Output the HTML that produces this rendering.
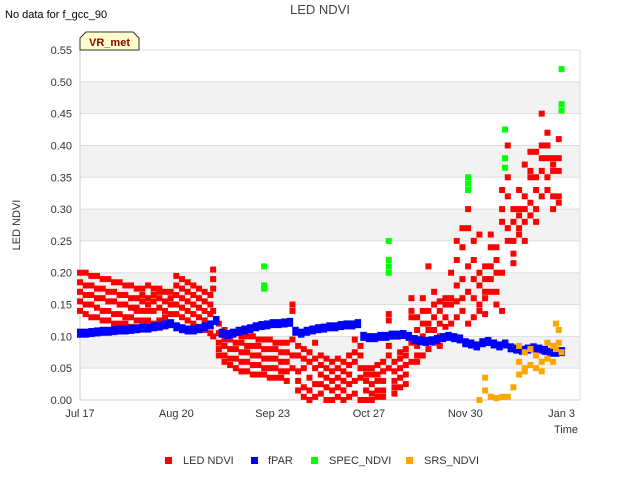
<!DOCTYPE html>
<html><head><meta charset="utf-8"><style>
body{margin:0;background:#fff;font-family:"Liberation Sans",sans-serif}
text{font-family:"Liberation Sans",sans-serif}
</style></head><body>
<svg id="chart" width="640" height="480" xmlns="http://www.w3.org/2000/svg">
<rect width="640" height="480" fill="#fff"/>
<text x="5" y="18" font-size="11">No data for f_gcc_90</text>
<text x="320" y="14" font-size="13" text-anchor="middle" fill="#444">LED NDVI</text>
<g id="bands"></g>
<g id="yaxis"></g>
<g id="xaxis"></g>
<g id="marks"></g>
<text transform="translate(20,225) rotate(-90)" font-size="11" text-anchor="middle" fill="#333">LED NDVI</text>
<text x="578" y="433" font-size="11" text-anchor="end" fill="#333">Time</text>
<g>
<path d="M80,50 L80,38 L86,32 L133,32 L139,38 L139,50 Z" fill="#ffffcc" stroke="#333" stroke-width="1"/>
<text x="109.5" y="46" font-size="11" font-weight="bold" text-anchor="middle" fill="#8b0000">VR_met</text>
</g>
<g>
<g><rect x="165" y="457" width="7" height="7" fill="#f00"/><text x="183" y="464" font-size="11" fill="#333">LED NDVI</text></g>
<g><rect x="251" y="457" width="7" height="7" fill="#00f"/><text x="268" y="464" font-size="11" fill="#333">fPAR</text></g>
<g><rect x="311" y="457" width="7" height="7" fill="#0f0"/><text x="329" y="464" font-size="11" fill="#333">SPEC_NDVI</text></g>
<g><rect x="406" y="457" width="7" height="7" fill="#ffa500"/><text x="424" y="464" font-size="11" fill="#333">SRS_NDVI</text></g>
</g>
</svg>
<script>
const yTicks=[0,0.05,0.10,0.15,0.20,0.25,0.30,0.35,0.40,0.45,0.50,0.55];
const xTickDays=[0,34,68,102,136,170];
const xTickLabels=["Jul 17","Aug 20","Sep 23","Oct 27","Nov 30","Jan 3"];
const ledDays=[0,2,4,6,8,10,12,14,16,18,20,22,24,26,28,30,32,34,36,38,40,42,44,46,47,49,51,53,55,57,59,61,63,65,67,69,71,73,75,77,79,81,83,85,87,89,91,93,95,97,99,101,103,105,107,109,111,113,115,117,119,121,123,125,127,129,131,133,135,137,139,141,143,145,147,149,151,153,155,157,159,161,163,165,167,169];
const ledVals=[
[.20,.185,.17,.155,.14],[.20,.18,.165,.15,.135],[.195,.18,.165,.15,.13],[.195,.175,.16,.145,.13],[.19,.175,.16,.14,.125],[.19,.17,.155,.14,.125],[.185,.17,.155,.135,.12],[.185,.165,.15,.135,.12],[.18,.165,.15,.13,.12],[.18,.16,.145,.13,.115],[.175,.16,.145,.125,.14],[.175,.155,.14,.125,.165],[.18,.16,.14,.125,.15],[.175,.155,.14,.12,.165],[.175,.16,.145,.125,.17],[.17,.155,.14,.125,.13],[.17,.15,.135,.12,.16],
[.195,.18,.165,.15,.135],[.19,.175,.16,.145,.13],[.185,.17,.155,.14,.125],[.18,.165,.15,.135,.12],[.175,.16,.145,.13,.115],[.17,.155,.14,.125,.11],[.165,.15,.135,.12,.105],[.205,.19,.175,.14,.10],
[.12,.105,.09,.08,.07],[.11,.095,.085,.07,.06],[.105,.095,.08,.065,.055],[.105,.09,.08,.065,.05],[.10,.09,.075,.06,.045],[.10,.085,.075,.06,.045],[.10,.085,.07,.055,.04],[.095,.085,.07,.055,.04],[.095,.08,.065,.05,.04],[.095,.08,.065,.05,.035],[.09,.08,.065,.05,.035],[.09,.075,.06,.045,.035],[.09,.075,.06,.045,.03],[.15,.14,.095,.07,.05],
[.085,.07,.045,.03,.015],[.08,.065,.05,.02,.005],[.075,.06,.035,.015,0],[.09,.065,.05,.025,.005],[.07,.055,.04,.025,.01],[.065,.05,.035,.02,0],[.06,.045,.03,.015,0],[.065,.05,.035,.02,.005],[.06,.045,.03,.015,0],[.07,.055,.04,.025,.005],[.095,.075,.06,.03,.01],[.085,.07,.05,.035,0],
[.05,.04,.03,.015,0],[.05,.04,.025,.01,0],[.055,.04,.03,.015,.005],[.06,.045,.03,.015,.005],[.135,.125,.085,.07,.05],[.06,.045,.03,.02,.01],[.075,.065,.05,.035,.02],[.08,.07,.055,.04,.025],
[.16,.14,.13,.09,.06],[.13,.11,.085,.07,.06],[.14,.12,.10,.07,.16],[.21,.14,.12,.11,.08],[.15,.13,.11,.09,.17],[.155,.14,.12,.10,.085],[.16,.15,.13,.115,.10],[.20,.16,.15,.12,.10],[.25,.22,.18,.155,.13],[.27,.24,.19,.16,.14],[.30,.27,.21,.17,.12],[.25,.22,.19,.16,.13],[.26,.20,.18,.15,.14],[.21,.19,.17,.16,.135],[.26,.24,.21,.19,.17],[.24,.22,.20,.17,.15],
[.33,.30,.28,.20,.14],[.40,.35,.32,.27,.25],[.30,.28,.25,.23,.215],[.33,.30,.29,.27,.26],[.37,.32,.30,.28,.25],[.39,.36,.35,.31,.29],[.39,.35,.33,.30,.28],[.45,.40,.38,.36,.32],[.42,.40,.38,.35,.33],[.38,.37,.36,.32,.30],[.41,.38,.36,.32,.31]];
const fparStartDay=0;
const fparVals=[.105,.105,.106,.107,.108,.108,.109,.110,.110,.111,.112,.113,.113,.115,.116,.118,.120,
.115,.112,.110,.110,.112,.115,.118,.125,
.105,.103,.105,.108,.110,.112,.115,.117,.118,.120,.120,.121,.122,
.108,.105,.108,.110,.112,.113,.115,.115,.117,.118,.118,.120,
.100,.098,.098,.100,.100,.102,.102,.103,.100,.095,.093,.092,
.093,.095,.098,.100,.098,.096,.090,.088,.085,.090,.092,.088,.085,.088,
.082,.080,.078,.080,.082,.080,.078,.075,.075,.076];
const specDays=[65,65,65,109,109,109,109,137,137,137,150,150,150,170,170,170];
const specVals=[.21,.18,.175,.25,.22,.21,.20,.35,.34,.33,.425,.38,.365,.52,.465,.455];
const srsDays=[141,143,143,145,147,149,151,153,155,155,155,157,157,157,159,159,161,161,163,163,165,165,167,167,168,168,169,169,170];
const srsVals=[0,.035,.015,.005,.003,.005,.005,.02,.085,.06,.04,.075,.05,.045,.08,.055,.07,.05,.06,.045,.09,.065,.085,.06,.12,.08,.11,.09,.075];

const X0=80,X1=580,Y0=400,Y1=50,DAYS=176.5,YMAX=0.55;
const xs=d=>X0+d*(X1-X0)/DAYS;
const ys=v=>Y0-v*(Y0-Y1)/YMAX;
const NS="http://www.w3.org/2000/svg";
function mk(tag,parent,attrs){const e=document.createElementNS(NS,tag);for(const k in attrs)e.setAttribute(k,attrs[k]);parent.appendChild(e);return e;}
const bands=document.getElementById('bands');
mk('rect',bands,{x:X0,y:Y1,width:X1-X0,height:Y0-Y1,fill:'#fff'});
for(let i=0;i<yTicks.length-1;i++){
  if(i%2===1){const r=mk('rect',bands,{x:X0,y:ys(yTicks[i+1]),width:X1-X0,height:ys(yTicks[i])-ys(yTicks[i+1]),fill:'#f2f2f2'});
  
  }
}
const ya=document.getElementById('yaxis');
yTicks.forEach(v=>{
  mk('line',ya,{x1:X0,x2:X1,y1:ys(v),y2:ys(v),stroke:'#ddd','stroke-width':1});
  const t=mk('text',ya,{x:X0-8,y:ys(v)+4,'font-size':11,'text-anchor':'end',fill:'#333'});
  t.textContent=v.toFixed(2);
  
  
});
mk('line',ya,{x1:X0,x2:X0,y1:Y1,y2:Y0,stroke:'#ccc'});
mk('line',ya,{x1:X1,x2:X1,y1:Y1,y2:Y0,stroke:'#ddd'});
const xa=document.getElementById('xaxis');
mk('line',xa,{x1:X0,x2:X1,y1:Y0,y2:Y0,stroke:'#ccc'});
xTickDays.forEach((d,i)=>{
  const t=mk('text',xa,{x:xs(d),y:Y0+17,'font-size':11,'text-anchor':'middle',fill:'#333'});
  t.textContent=xTickLabels[i];
  
  
});
const m=document.getElementById('marks');
ledDays.forEach((d,i)=>{ledVals[i].forEach(v=>{
  const r=mk('rect',m,{x:xs(d)-3,y:ys(v)-3,width:6,height:6,fill:'#f00'});
  
  
});});
fparVals.forEach((v,i)=>{
  const d=fparStartDay+i*2;
  const r=mk('rect',m,{x:xs(d)-3,y:ys(v)-4.5,width:6.5,height:9,fill:'#00f'});
  
  
});
specDays.forEach((d,i)=>{
  const r=mk('rect',m,{x:xs(d)-3,y:ys(specVals[i])-3,width:6,height:6,fill:'#0f0'});
  
  
});
srsDays.forEach((d,i)=>{
  const r=mk('rect',m,{x:xs(d)-3,y:ys(srsVals[i])-3,width:6,height:6,fill:'#ffa500'});
  
  
});
</script>
</body></html>
